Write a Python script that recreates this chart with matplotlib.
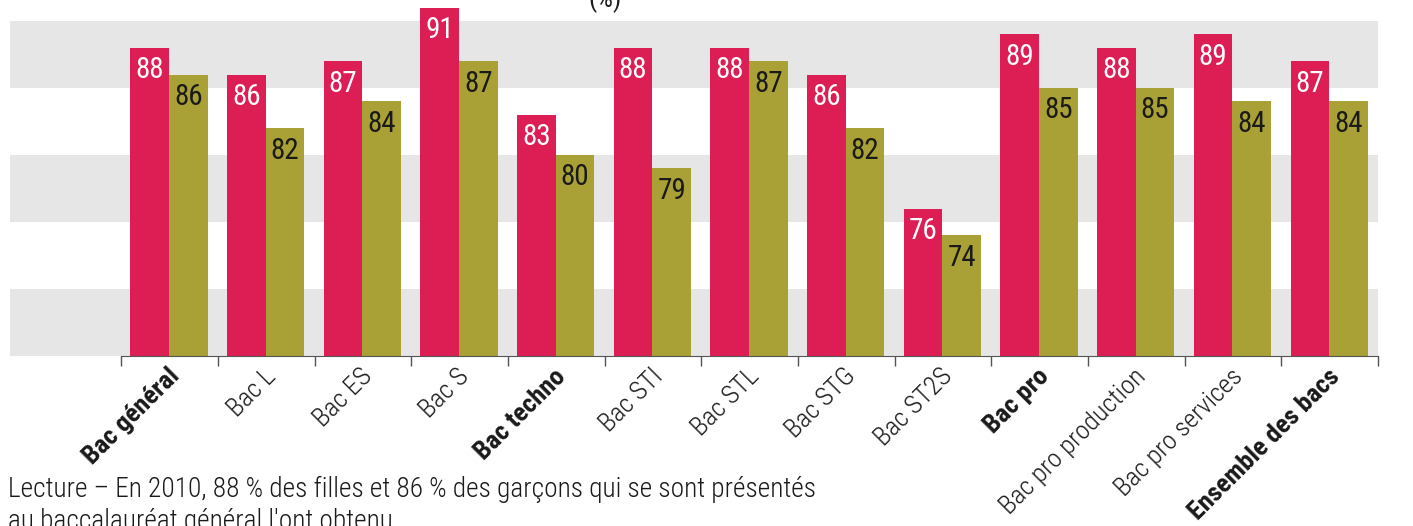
"""Taux de réussite au baccalauréat 2010, filles / garçons, par série."""
import matplotlib

matplotlib.use("Agg")
import matplotlib.pyplot as plt
import matplotlib.transforms as mtransforms
import numpy as np

categories = [
    "Bac général", "Bac L", "Bac ES", "Bac S", "Bac techno", "Bac STI", "Bac STL",
    "Bac STG", "Bac ST2S", "Bac pro", "Bac pro production", "Bac pro services",
    "Ensemble des bacs",
]
bold_labels = ["Bac général", "Bac techno", "Bac pro", "Ensemble des bacs"]
filles = [88, 86, 87, 91, 83, 88, 88, 86, 76, 89, 88, 89, 87]
garcons = [86, 82, 84, 87, 80, 79, 87, 82, 74, 85, 85, 84, 84]
bands = [(65, 70), (75, 80), (85, 90)]

PINK = "#dc1e55"
OLIVE = "#a9a135"
GRAY = "#e6e6e6"
INK = "#1a1a1a"

plt.rcParams["font.family"] = ["Roboto Condensed", "DejaVu Sans"]

Y0, Y1 = 65, 90

fig = plt.figure(figsize=(14.13, 5.26), dpi=100)
ax = fig.add_axes([10 / 1413, 170 / 526, 1368 / 1413, 335 / 526])

x = np.arange(len(categories))
ax.set_xlim(-1.65, len(categories) - 0.5)
ax.set_ylim(Y0, Y1)

for lo, hi in bands:
    ax.axhspan(lo, hi, color=GRAY, lw=0, zorder=0)

w = 0.4
b1 = ax.bar(x - 0.205, np.array(filles) - Y0, w, bottom=Y0, color=PINK,
            zorder=2, clip_on=False)
b2 = ax.bar(x + 0.195, np.array(garcons) - Y0, w, bottom=Y0, color=OLIVE, zorder=2)

for rect, v in zip(b1, filles):
    ax.annotate(str(v), (rect.get_x() + rect.get_width() / 2, v), xytext=(0, -6),
                textcoords="offset points", ha="center", va="top",
                color="white", fontsize=21, annotation_clip=False)
for rect, v in zip(b2, garcons):
    ax.annotate(str(v), (rect.get_x() + rect.get_width() / 2, v), xytext=(0, -6),
                textcoords="offset points", ha="center", va="top",
                color=INK, fontsize=21, annotation_clip=False)

# only the bottom line, ticks on the category boundaries
for s in ["top", "left", "right"]:
    ax.spines[s].set_visible(False)
ax.spines["bottom"].set_bounds(-0.5, len(categories) - 0.5)
ax.spines["bottom"].set_color("#555555")
ax.set_yticks([])

ax.set_xticks(np.arange(len(categories) + 1) - 0.5, minor=True)
ax.tick_params(axis="x", which="minor", length=7, width=1, color="#555555")
ax.set_xticks(x)
ax.set_xticklabels(categories)
ax.tick_params(axis="x", which="major", length=0, pad=12)

shift = mtransforms.ScaledTranslation(6 / 100, 0, fig.dpi_scale_trans)
for lab in ax.get_xticklabels():
    lab.set_rotation(45)
    lab.set_ha("right")
    lab.set_va("center")
    lab.set_rotation_mode("anchor")
    lab.set_fontsize(19)
    lab.set_color(INK)
    lab.set_transform(lab.get_transform() + shift)
    if lab.get_text() in bold_labels:
        lab.set_fontweight("bold")
    else:
        lab.set_fontweight("light")

fig.text(605 / 1413, 1.0, "(%)", ha="center", va="center", fontsize=19, color=INK)
fig.text(8 / 1413, 29 / 526,
         "Lecture – En 2010, 88 % des filles et 86 % des garçons qui se sont présentés",
         ha="left", va="baseline", fontsize=19.7, fontweight="light", color=INK)
fig.text(8 / 1413, -3 / 526, "au baccalauréat général l'ont obtenu.",
         ha="left", va="baseline", fontsize=19.7, fontweight="light", color=INK)

fig.savefig("out.png", dpi=100, facecolor="white")
